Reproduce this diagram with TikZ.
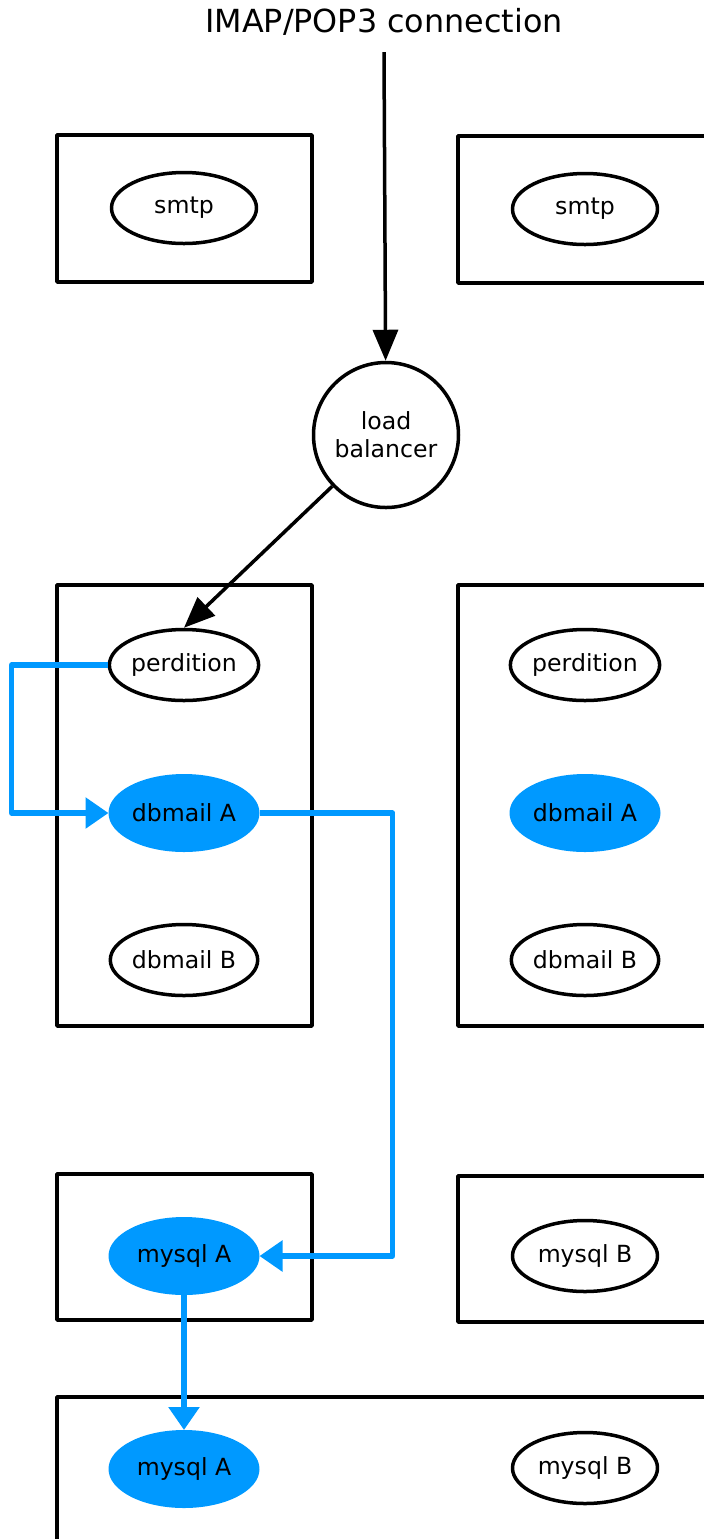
\documentclass[tikz,border=0pt]{standalone}
\usepackage{fontspec}
\setmainfont{DejaVu Sans}
\usetikzlibrary{shapes.geometric,arrows.meta}
\definecolor{mailBlue}{HTML}{0099FF}
\begin{document}
\begin{tikzpicture}[x=0.5pt,y=-0.5pt,line join=round,
  svc/.style={ellipse,draw,line width=1.75pt,minimum width=72.5pt,minimum height=35.5pt,
    inner sep=0pt,font=\fontsize{11.8}{14}\selectfont},
  svcA/.style={svc,draw=none,fill=mailBlue,outer sep=0pt,minimum width=75.5pt,minimum height=39pt},
  box/.style={draw,line width=1.75pt},
  conn/.style={line width=1.75pt,-{Triangle[length=15.5pt,width=12.5pt]}},
  flow/.style={draw=mailBlue,line width=2.8pt,-{Triangle[length=11.5pt,width=15pt]}}]
  \clip (0,0) rectangle (704,1539);
    % boxes
    \draw[box] (57,135) rectangle (312,282);
    \draw[box] (458,136) rectangle (720,283);
    \draw[box] (57,585) rectangle (312,1026);
    \draw[box] (458,585) rectangle (720,1026);
    \draw[box] (57,1174) rectangle (312,1320);
    \draw[box] (458,1176) rectangle (720,1322);
    \draw[box] (57,1397) rectangle (720,1560);
  \node (title) at (384,22) {\fontsize{15.9}{19}\selectfont IMAP/POP3 connection};
  \coordinate (inTop) at (384,52);
  \node[circle,draw,line width=1.75pt,minimum size=72.5pt,inner sep=0pt,align=center,
    font=\fontsize{11.8}{14}\selectfont] (lb) at (386,435) {load\\balancer};
  \node[svc] (smtpL) at (184,208) {smtp};
  \node[svc] (smtpR) at (585,209) {smtp};
  \node[svc] (perdL) at (184,665) {perdition};
  \node[svcA] (dbAL) at (184,813) {dbmail A};
  \node[svc] (dbBL) at (184,960) {dbmail B};
  \node[svc] (perdR) at (585,665) {perdition};
  \node[svcA] (dbAR) at (585,813) {dbmail A};
  \node[svc] (dbBR) at (585,960) {dbmail B};
  \node[svcA] (myAL) at (184,1256) {mysql A};
  \node[svc] (myBR) at (585,1256) {mysql B};
  \node[svcA] (myAB) at (184,1469) {mysql A};
  \node[svc] (myBB) at (585,1468) {mysql B};
  \draw[conn] (inTop) -- (lb);
  \draw[conn] (lb) -- (perdL.north);
  \draw[flow] (perdL.west) -- ++(-96,0) |- (dbAL.west);
  \draw[flow] (dbAL.east) -- ++(133,0) |- (myAL.east);
  \draw[flow] (myAL.south) -- (myAB.north);
\end{tikzpicture}
\end{document}
